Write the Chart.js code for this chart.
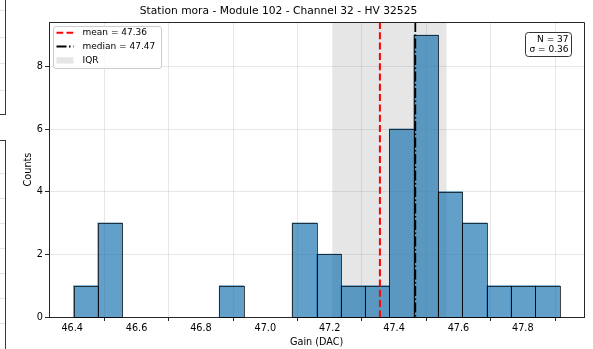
<!DOCTYPE html>
<html><head><meta charset="utf-8">
<script src="https://cdn.jsdelivr.net/npm/chart.js@4/dist/chart.umd.min.js"></script>
<style>
html,body{margin:0;padding:0;background:#fff;overflow:hidden}
#wrap{position:relative;width:593px;height:349px;background:#fff}
canvas{position:absolute;left:0;top:0}
.art{position:absolute;pointer-events:none;box-sizing:border-box}
</style></head><body>
<div id="wrap">
<canvas id="c" width="593" height="349"></canvas>
<div class="art" style="left:-10px;top:-10px;width:16px;height:125px;border:1px solid #3a3a3a;"></div>
<div class="art" style="left:-10px;top:140px;width:16px;height:230px;border:1px solid #3a3a3a;"></div>
<div class="art" style="left:0;top:10px;width:5px;height:1px;background:#e6e6e6"></div>
<div class="art" style="left:0;top:37px;width:5px;height:1px;background:#e6e6e6"></div>
<div class="art" style="left:0;top:63px;width:5px;height:1px;background:#e6e6e6"></div>
<div class="art" style="left:0;top:90px;width:5px;height:1px;background:#e6e6e6"></div>
<div class="art" style="left:0;top:173px;width:5px;height:1px;background:#e6e6e6"></div>
<div class="art" style="left:0;top:198px;width:5px;height:1px;background:#e6e6e6"></div>
<div class="art" style="left:0;top:223px;width:5px;height:1px;background:#e6e6e6"></div>
<div class="art" style="left:0;top:248px;width:5px;height:1px;background:#e6e6e6"></div>
<div class="art" style="left:0;top:273px;width:5px;height:1px;background:#e6e6e6"></div>
<div class="art" style="left:0;top:298px;width:5px;height:1px;background:#e6e6e6"></div>
<div class="art" style="left:0;top:323px;width:5px;height:1px;background:#e6e6e6"></div>
</div>
<script>
// ---- data ----
const titleText = 'Station mora - Module 102 - Channel 32 - HV 32525';
const xLabel = 'Gain (DAC)';
const yLabel = 'Counts';
const binEdges = [46.404, 46.480, 46.555, 46.631, 46.706, 46.782, 46.857, 46.933, 47.008, 47.084,
                  47.159, 47.235, 47.310, 47.386, 47.461, 47.537, 47.612, 47.688, 47.763, 47.839, 47.915];
const counts = [1, 3, 0, 0, 0, 0, 1, 0, 0, 3, 2, 1, 1, 6, 9, 4, 3, 1, 1, 1];
const xTicks = [46.4, 46.6, 46.8, 47.0, 47.2, 47.4, 47.6, 47.8];
const yTicks = [0, 2, 4, 6, 8];
const xRange = [46.328, 47.991];
const yRange = [0, 9.42];
const meanValue = 47.356;
const medianValue = 47.466;
const q1Value = 47.208;
const q3Value = 47.563;
const legendLabels = ['mean = 47.36', 'median = 47.47', 'IQR'];
const statsLines = ['N = 37', 'σ = 0.36'];

const FONT = '"DejaVu Sans", "Liberation Sans", sans-serif';

function rrect(ctx, x, y, w, h, r) {
  ctx.beginPath();
  ctx.moveTo(x + r, y);
  ctx.lineTo(x + w - r, y);
  ctx.arcTo(x + w, y, x + w, y + r, r);
  ctx.lineTo(x + w, y + h - r);
  ctx.arcTo(x + w, y + h, x + w - r, y + h, r);
  ctx.lineTo(x + r, y + h);
  ctx.arcTo(x, y + h, x, y + h - r, r);
  ctx.lineTo(x, y + r);
  ctx.arcTo(x, y, x + r, y, r);
  ctx.closePath();
}

const overlay = {
  id: 'overlay',
  beforeDatasetsDraw(chart) {
    const {ctx, chartArea: a, scales: {x}} = chart;
    const l = x.getPixelForValue(q1Value), r = x.getPixelForValue(q3Value);
    ctx.save();
    ctx.fillStyle = 'rgba(128,128,128,0.2)';
    ctx.fillRect(l, a.top, r - l, a.bottom - a.top);
    ctx.restore();
  },
  afterDatasetsDraw(chart) {
    const {ctx} = chart;
    const meta = chart.getDatasetMeta(0);
    ctx.save();
    ctx.strokeStyle = 'rgba(0,0,0,0.7)';
    ctx.lineWidth = 1;
    meta.data.forEach((bar, i) => {
      if (!(counts[i] > 0)) return;
      const p = bar.getProps(['x', 'y', 'base', 'width'], true);
      const l = Math.round(p.x - p.width / 2) + 0.5;
      const r = Math.round(p.x + p.width / 2) + 0.5;
      const t = Math.round(p.y) + 0.5;
      const b = Math.round(p.base) + 0.5;
      ctx.strokeRect(l, t, r - l, b - t);
    });
    ctx.restore();
  },
  afterDraw(chart) {
    const {ctx, chartArea: a, scales: {x}} = chart;
    ctx.save();
    ctx.beginPath(); ctx.rect(a.left, a.top, a.right - a.left, a.bottom - a.top); ctx.clip();
    const mx = x.getPixelForValue(meanValue);
    ctx.strokeStyle = '#ff0000'; ctx.lineWidth = 2; ctx.setLineDash([7, 3.3]);
    ctx.beginPath(); ctx.moveTo(mx, a.top); ctx.lineTo(mx, a.bottom); ctx.stroke();
    const dx = x.getPixelForValue(medianValue);
    ctx.strokeStyle = '#000000'; ctx.lineWidth = 1.8; ctx.setLineDash([10, 2.5, 1.5, 2.5]);
    ctx.beginPath(); ctx.moveTo(dx, a.top); ctx.lineTo(dx, a.bottom); ctx.stroke();
    ctx.restore();

    ctx.save();
    ctx.strokeStyle = '#262626'; ctx.lineWidth = 1; ctx.setLineDash([]);
    const L = Math.round(a.left) + 0.5, R = Math.round(a.right) + 0.5, T = Math.round(a.top) + 0.5, B = Math.round(a.bottom) + 0.5;
    ctx.beginPath(); ctx.moveTo(L, T); ctx.lineTo(R, T); ctx.lineTo(R, B); ctx.stroke();

    // legend
    ctx.fillStyle = 'rgba(255,255,255,0.8)';
    ctx.strokeStyle = '#cccccc';
    rrect(ctx, 53.5, 26.5, 108, 42, 2.5);
    ctx.fill(); ctx.stroke();
    const rows = [32.8, 46.6, 60.4];
    ctx.lineWidth = 2;
    ctx.strokeStyle = '#ff0000'; ctx.setLineDash([6.7, 3.3]);
    ctx.beginPath(); ctx.moveTo(56.5, rows[0]); ctx.lineTo(73.5, rows[0]); ctx.stroke();
    ctx.strokeStyle = '#000000'; ctx.setLineDash([10, 2.5, 1.5, 2.5]);
    ctx.beginPath(); ctx.moveTo(56.5, rows[1]); ctx.lineTo(73.5, rows[1]); ctx.stroke();
    ctx.setLineDash([]);
    ctx.fillStyle = 'rgba(128,128,128,0.2)';
    ctx.fillRect(56.5, rows[2] - 3.2, 17, 6.4);
    ctx.fillStyle = '#000';
    ctx.font = '9px ' + FONT;
    ctx.textAlign = 'left'; ctx.textBaseline = 'middle';
    legendLabels.forEach((t, i) => ctx.fillText(t, 82.5, rows[i]));

    // stats box
    ctx.fillStyle = '#ffffff'; ctx.strokeStyle = '#333333'; ctx.lineWidth = 1;
    rrect(ctx, 525.5, 32.5, 46, 24, 3);
    ctx.fill(); ctx.stroke();
    ctx.fillStyle = '#000';
    ctx.textAlign = 'right';
    ctx.fillText(statsLines[0], 568.5, 39.5);
    ctx.fillText(statsLines[1], 568.5, 49.7);

    // title
    ctx.font = '10.7px ' + FONT;
    ctx.textAlign = 'center'; ctx.textBaseline = 'middle';
    ctx.fillText(titleText, 278.5, 11.5);

    // axis titles
    ctx.font = '9.7px ' + FONT;
    ctx.fillText(xLabel, (a.left + a.right) / 2, 342);
    ctx.translate(28, (a.top + a.bottom) / 2);
    ctx.rotate(-Math.PI / 2);
    ctx.fillText(yLabel, 0, 0);
    ctx.restore();
  }
};

const barData = counts.map((c, i) => ({x: (binEdges[i] + binEdges[i + 1]) / 2, y: c}));

new Chart(document.getElementById('c'), {
  type: 'bar',
  data: {
    datasets: [{
      data: barData,
      backgroundColor: (ctx) => (counts[ctx.dataIndex] > 0 ? 'rgba(31,119,180,0.7)' : 'rgba(0,0,0,0)'),
      borderWidth: 0,
      barPercentage: 1,
      categoryPercentage: 1,
      inflateAmount: 0.5
    }]
  },
  options: {
    responsive: false,
    animation: false,
    devicePixelRatio: 1,
    layout: {padding: {left: 0, top: 22, right: 8.7, bottom: 0}},
    plugins: {legend: {display: false}, tooltip: {enabled: false}, title: {display: false}},
    scales: {
      x: {
        type: 'linear', min: xRange[0], max: xRange[1], offset: false, z: 1,
        afterBuildTicks: (s) => { s.ticks = xTicks.map(v => ({value: v})); },
        afterFit: (s) => { s.height = 32; },
        grid: {color: 'rgba(176,176,176,0.3)', tickColor: '#262626', tickLength: 4, tickWidth: 1},
        border: {display: true, color: '#262626', width: 1},
        ticks: {color: '#000', font: {family: FONT, size: 9.7}, padding: 2, maxRotation: 0,
                callback: (v) => Number(v).toFixed(1)}
      },
      y: {
        type: 'linear', min: yRange[0], max: yRange[1], z: 1,
        afterBuildTicks: (s) => { s.ticks = yTicks.map(v => ({value: v})); },
        afterFit: (s) => { s.width = 49; },
        grid: {color: 'rgba(176,176,176,0.3)', tickColor: '#262626', tickLength: 4, tickWidth: 1},
        border: {display: true, color: '#262626', width: 1},
        ticks: {color: '#000', font: {family: FONT, size: 9.7}, padding: 2,
                callback: (v) => String(v)}
      }
    }
  },
  plugins: [overlay]
});
</script>
</body></html>
